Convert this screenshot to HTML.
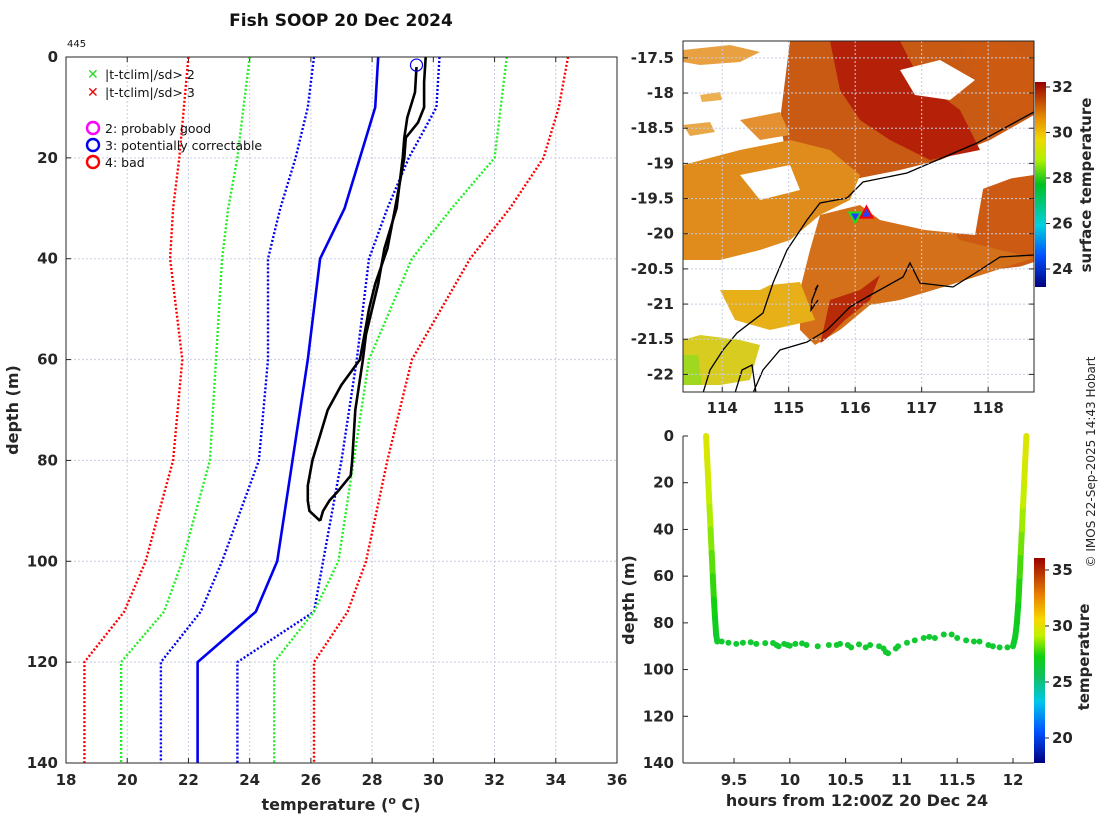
<!DOCTYPE html>
<html><head><meta charset="utf-8"><style>
body{margin:0;background:#fff;}
svg{font-family:"DejaVu Sans","Liberation Sans",sans-serif;}
.tk{font-size:15px;font-weight:bold;fill:#262626;}
</style></head><body>
<svg id="chart" width="1100" height="820" viewBox="0 0 1100 820" xmlns="http://www.w3.org/2000/svg">
<defs>
<linearGradient id="sstcb" x1="0" y1="1" x2="0" y2="0">
<stop offset="0" stop-color="#00007f"/><stop offset="0.15" stop-color="#0050ff"/><stop offset="0.3" stop-color="#00d0e0"/><stop offset="0.5" stop-color="#00c020"/><stop offset="0.62" stop-color="#b0f000"/><stop offset="0.72" stop-color="#f0d800"/><stop offset="0.82" stop-color="#e89000"/><stop offset="1" stop-color="#990000"/>
</linearGradient>
<linearGradient id="tcb" x1="0" y1="1" x2="0" y2="0">
<stop offset="0" stop-color="#00007f"/><stop offset="0.15" stop-color="#0050ff"/><stop offset="0.3" stop-color="#00c8e8"/><stop offset="0.42" stop-color="#10c060"/><stop offset="0.52" stop-color="#10d010"/><stop offset="0.62" stop-color="#c0f000"/><stop offset="0.7" stop-color="#f8d800"/><stop offset="0.82" stop-color="#e88000"/><stop offset="1" stop-color="#990000"/>
</linearGradient>
<clipPath id="mapclip"><rect x="683" y="41" width="351" height="351"/></clipPath>
</defs>
<g id="left"></g>
<g id="map"></g>
<g id="bottom"></g>
<text x="341" y="26" text-anchor="middle" font-size="17" font-weight="bold" fill="#111">Fish SOOP 20 Dec 2024</text>
<text x="67" y="47" font-size="10" fill="#111">445</text>
<text transform="translate(18,410) rotate(-90)" text-anchor="middle" font-size="16" font-weight="bold" fill="#262626">depth (m)</text>
<text x="341" y="810" text-anchor="middle" font-size="16" font-weight="bold" fill="#262626">temperature (<tspan dy="-6" font-size="11">o</tspan><tspan dy="6"> C)</tspan></text>
<text transform="translate(634,600) rotate(-90)" text-anchor="middle" font-size="16" font-weight="bold" fill="#262626">depth (m)</text>
<text x="857" y="806" text-anchor="middle" font-size="16" font-weight="bold" fill="#262626">hours from 12:00Z 20 Dec 24</text>
<text transform="translate(1091,185) rotate(-90)" text-anchor="middle" font-size="15" font-weight="bold" fill="#262626">surface temperature</text>
<text transform="translate(1089,657) rotate(-90)" text-anchor="middle" font-size="15" font-weight="bold" fill="#262626">temperature</text>
<text transform="translate(1095,462) rotate(-90)" text-anchor="middle" font-size="12" fill="#262626">© IMOS 22-Sep-2025 14:43 Hobart</text>
</svg>
<script>
// ---- left profile chart data ----
const depthTicks=[0,20,40,60,80,100,120,140];
const tempTicks=[18,20,22,24,26,28,30,32,34,36];
const climDepths=[0,10,20,30,40,60,80,100,110,120,140];
const redLow=[22.0,21.85,21.7,21.5,21.4,21.8,21.5,20.6,19.9,18.6,18.6];
const greenLow=[24.0,23.8,23.6,23.3,23.1,22.9,22.7,21.8,21.2,19.8,19.8];
const blueLow=[26.1,25.9,25.5,25.0,24.6,24.6,24.3,23.1,22.4,21.1,21.1];
const climMean=[28.2,28.1,27.6,27.1,26.3,25.9,25.4,24.9,24.2,22.3,22.3];
const blueHigh=[30.2,30.1,29.2,28.5,27.9,27.5,27.0,26.4,26.1,23.6,23.6];
const greenHigh=[32.4,32.2,32.0,30.6,29.3,27.9,27.4,26.9,26.1,24.8,24.8];
const redHigh=[34.4,34.1,33.6,32.5,31.2,29.3,28.5,27.8,27.2,26.1,26.1];
const downDepths=[2,7,12,16,20,30,38,45,50,55,60,70,80,83,86,88,90,92];
const downTemps=[29.45,29.4,29.15,29.05,29.0,28.8,28.4,28.2,28.0,27.8,27.7,27.45,27.35,27.3,26.9,26.6,26.4,26.3];
const upDepths=[92,90,88,85,80,75,70,65,60,55,50,45,38,30,20,16,13,10,5,0];
const upTemps=[26.3,25.95,25.9,25.9,26.05,26.3,26.55,27.0,27.6,27.75,27.9,28.1,28.5,28.75,29.05,29.1,29.5,29.7,29.7,29.75];
// ---- map data ----
const lonTicks=[114,115,116,117,118];
const latTicks=[-17.5,-18,-18.5,-19,-19.5,-20,-20.5,-21,-21.5,-22];
const sstTicks=[24,26,28,30,32];
const shipLon=[116.0];
const shipLat=[-19.77];
const flagLon=[116.17];
const flagLat=[-19.7];
// ---- bottom time/depth data ----
const hourTicks=[9.5,10,10.5,11,11.5,12];
const depthTicks2=[0,20,40,60,80,100,120,140];
const tempTicks2=[20,25,30,35];
// descent trace
const descentHours=[9.25,9.26,9.27,9.28,9.29,9.30,9.31,9.32,9.33,9.34,9.35];
const descentDepths=[0,10,20,30,40,50,60,70,78,85,88];
const descentTemps=[29.8,29.6,29.3,29.0,28.6,28.1,27.6,27.2,26.9,26.6,26.4];
// near-bottom points
const bottomHours=[9.39,9.45,9.52,9.58,9.65,9.70,9.78,9.85,9.88,9.90,9.95,9.98,10.0,10.05,10.11,10.15,10.25,10.35,10.42,10.45,10.52,10.55,10.62,10.68,10.72,10.80,10.84,10.86,10.88,10.95,10.97,11.05,11.12,11.2,11.25,11.3,11.38,11.45,11.5,11.58,11.65,11.7,11.78,11.82,11.88,11.95];
const bottomDepths=[88,88.5,89,88.5,88.3,89,88.7,88.6,89.5,90,89,89.5,89.8,89,88.8,89.5,90,89.5,89.5,89,89.5,90.5,89.2,90.5,89.5,90,91,92.5,93,91,90,88.5,87.5,86.5,86,86.5,85,85,86.5,87.5,88,88,89.5,90,90.5,90.5];
// ascent trace
const ascentHours=[12.0,12.02,12.035,12.05,12.06,12.07,12.08,12.09,12.10,12.11,12.12];
const ascentDepths=[90,86,80,70,60,50,40,30,20,10,0];
const ascentTemps=[26.4,26.5,26.7,27.0,27.4,27.9,28.4,28.9,29.3,29.6,29.8];
</script>
<script>
const NS="http://www.w3.org/2000/svg";
function mk(parent,tag,attrs){const e=document.createElementNS(NS,tag);for(const k in attrs)e.setAttribute(k,attrs[k]);parent.appendChild(e);return e;}
// ===== LEFT =====
const L=document.getElementById('left');
const lx0=66,lx1=617,ly0=57,ly1=763;
const xT=t=>lx0+(t-18)/(36-18)*(lx1-lx0);
const yD=d=>ly0+d/140*(ly1-ly0);
tempTicks.forEach(t=>{
  if(t>18&&t<36){const g=mk(L,'line',{x1:xT(t),x2:xT(t),y1:ly0,y2:ly1,stroke:'#c8cde0','stroke-width':1,'stroke-dasharray':'2,2'});
  }
  const tx=mk(L,'text',{x:xT(t),y:ly1+22,'text-anchor':'middle',class:'tk'});tx.textContent=t;
  
  mk(L,'line',{x1:xT(t),x2:xT(t),y1:ly1,y2:ly1-5,stroke:'#262626'});
  mk(L,'line',{x1:xT(t),x2:xT(t),y1:ly0,y2:ly0+5,stroke:'#262626'});
});
depthTicks.forEach(d=>{
  if(d>0&&d<140){const g=mk(L,'line',{x1:lx0,x2:lx1,y1:yD(d),y2:yD(d),stroke:'#c8cde0','stroke-width':1,'stroke-dasharray':'2,2'});
  }
  const tx=mk(L,'text',{x:lx0-8,y:yD(d)+5,'text-anchor':'end',class:'tk'});tx.textContent=d;
  
  mk(L,'line',{x1:lx0,x2:lx0+5,y1:yD(d),y2:yD(d),stroke:'#262626'});
});
function line(parent,ts,ds,stroke,w,dash,name,xf,yf){
  const p=ts.map((t,i)=>(i?'L':'M')+xf(t).toFixed(1)+','+yf(ds[i]).toFixed(1)).join('');
  const a={d:p,fill:'none',stroke:stroke,'stroke-width':w,'stroke-linejoin':'round'};
  if(dash)a['stroke-dasharray']=dash;
  const e=mk(parent,'path',a);
  
  
}
line(L,redLow,climDepths,'#ff0000',2.4,'2,2','clim-3sd-low',xT,yD);
line(L,greenLow,climDepths,'#22ee22',2.4,'2,2','clim-2sd-low',xT,yD);
line(L,blueLow,climDepths,'#0000ee',2.4,'2,2','clim-1sd-low',xT,yD);
line(L,climMean,climDepths,'#0000ee',2.6,null,'clim-mean',xT,yD);
line(L,blueHigh,climDepths,'#0000ee',2.4,'2,2','clim-1sd-high',xT,yD);
line(L,greenHigh,climDepths,'#22ee22',2.4,'2,2','clim-2sd-high',xT,yD);
line(L,redHigh,climDepths,'#ff0000',2.4,'2,2','clim-3sd-high',xT,yD);
line(L,downTemps,downDepths,'#000',2.6,null,'profile-down',xT,yD);
line(L,upTemps,upDepths,'#000',2.6,null,'profile-up',xT,yD);
const fl=mk(L,'circle',{cx:xT(downTemps[0]),cy:yD(downDepths[0])-2,r:6,fill:'none',stroke:'#0000ee','stroke-width':1.2});


const box=mk(L,'rect',{x:lx0,y:ly0,width:lx1-lx0,height:ly1-ly0,fill:'none',stroke:'#262626','stroke-width':1});


// legend
const lg=mk(L,'g',{});


[['#22dd22','|t-tclim|/sd> 2',74],['#ee0000','|t-tclim|/sd> 3',92]].forEach(([c,s,y])=>{
  const t=mk(lg,'text',{x:87,y:y+5,fill:c,'font-size':14,'font-weight':'bold'});t.textContent='✕';
  const tt=mk(lg,'text',{x:105,y:y+5,'font-size':12.5,fill:'#111'});tt.textContent=s;
  
});
[['#ff00ff','2: probably good',128],['#0000ee','3: potentially correctable',145],['#ff0000','4: bad',162]].forEach(([c,s,y])=>{
  mk(lg,'circle',{cx:93,cy:y,r:6,fill:'none',stroke:c,'stroke-width':2.4});
  const tt=mk(lg,'text',{x:105,y:y+5,'font-size':12.5,fill:'#111'});tt.textContent=s;
  
});
// ===== MAP =====
const M=document.getElementById('map');
const mx0=683,mx1=1034,my0=41,my1=392;
const xL=l=>mx0+(l-113.41)/(118.69-113.41)*(mx1-mx0);
const yLat=a=>my0+(-17.26-a)/(22.25-17.26)*(my1-my0);
const mg=mk(M,'g',{'clip-path':'url(#mapclip)'});


function poly(pts,fill){mk(mg,'polygon',{points:pts,fill:fill});}
poly('790,41 1034,41 1034,115 990,140 940,160 900,170 860,178 820,190 790,180 780,120','#c85a14');
poly('683,165 740,150 790,140 830,150 860,175 850,200 820,215 790,240 760,250 720,260 683,260','#e08c1c');
// sparse speckles upper-left
poly('683,50 730,45 760,52 740,62 700,65 683,62','#e8a040');
poly('740,120 780,112 790,135 760,140','#e49030');
poly('683,125 710,122 715,132 690,136','#e8a848');
poly('700,95 720,92 722,100 702,102','#ecb050');
poly('830,41 900,41 920,80 960,110 980,150 930,160 890,140 860,120 840,90','#b42008');
poly('960,41 1000,41 1034,60 1034,110 1000,120 980,90','#cc5a10');
poly('940,220 980,190 1034,170 1034,265 990,270 960,250','#cc5a12');
poly('820,215 860,205 890,190 940,215 960,240 1000,250 1034,258 950,285 900,300 870,305 840,330 815,345 800,330 800,290 810,250','#d4701a');
poly('830,300 860,290 880,275 870,300 845,320 820,345','#b82a08');
poly('720,290 800,282 815,320 770,330 735,320','#e8b018');
poly('683,340 700,335 740,340 760,345 750,380 720,385 683,385','#d8cc20');
poly('683,355 698,355 702,385 683,385','#a0d820');
[['868,178 930,168 985,178 975,235 925,230 880,220 860,205'],
 ['740,175 790,165 800,190 760,200'],
 ['683,265 760,260 790,275 760,290 720,290 683,300'],
 ['900,70 940,60 975,80 950,100 915,95'],
 ['990,160 1034,140 1034,175 1000,180'],
 ['840,330 870,310 900,300 950,290 1034,262 1034,392 760,392 780,370']].forEach(p=>poly(p[0],'#ffffff'));
lonTicks.forEach(l=>{mk(M,'line',{x1:xL(l),x2:xL(l),y1:my0,y2:my1,stroke:'#c8cde0','stroke-dasharray':'2,2'});
  const t=mk(M,'text',{x:xL(l),y:my1+21,'text-anchor':'middle',class:'tk'});t.textContent=l;
  
  mk(M,'line',{x1:xL(l),x2:xL(l),y1:my1,y2:my1-5,stroke:'#262626'});});
latTicks.forEach(a=>{mk(M,'line',{x1:mx0,x2:mx1,y1:yLat(a),y2:yLat(a),stroke:'#c8cde0','stroke-dasharray':'2,2'});
  const t=mk(M,'text',{x:mx0-9,y:yLat(a)+5,'text-anchor':'end',class:'tk'});t.textContent=a;
  
  mk(M,'line',{x1:mx0,x2:mx0+5,y1:yLat(a),y2:yLat(a),stroke:'#262626'});
  mk(M,'line',{x1:mx1,x2:mx1-5,y1:yLat(a),y2:yLat(a),stroke:'#262626'});});
const c1=mk(mg,'path',{d:'M1034,112 L977,143 L907,173 L863,182 L847,198 L820,203 L807,220 L787,250 L773,283 L763,313 L737,333 L723,350 L710,370 L703,393',fill:'none',stroke:'#000','stroke-width':1.3});

const c2=mk(mg,'path',{d:'M1034,255 L1000,257 L980,270 L953,287 L920,283 L910,263 L903,277 L867,297 L850,307 L827,330 L807,342 L780,350 L763,370 L753,393',fill:'none',stroke:'#000','stroke-width':1.3});

mk(mg,'path',{d:'M735,393 L742,370 L752,365 L756,393',fill:'none',stroke:'#000','stroke-width':1.3});
mk(mg,'path',{d:'M815,290 L818,285 L812,300 L811,310 L818,300',fill:'none',stroke:'#000','stroke-width':1.3});
shipLon.forEach((l,i)=>{const x=xL(l),y=yLat(shipLat[i]);
  const m=mk(M,'polygon',{points:`${x-6},${y-5} ${x+6},${y-5} ${x},${y+5}`,fill:'#2040ff',stroke:'#22dd22','stroke-width':2});
  });
flagLon.forEach((l,i)=>{const x=xL(l),y=yLat(flagLat[i]);
  const m=mk(M,'polygon',{points:`${x-6},${y+5} ${x+6},${y+5} ${x},${y-6}`,fill:'#2040ff',stroke:'#ff0000','stroke-width':2});
  });
const mb=mk(M,'rect',{x:mx0,y:my0,width:mx1-mx0,height:my1-my0,fill:'none',stroke:'#262626'});

const cb1y0=82,cb1y1=287;const ySst=v=>87+(32-v)*(269-87)/8;
const cb=mk(M,'rect',{x:1035,y:cb1y0,width:11,height:cb1y1-cb1y0,fill:'url(#sstcb)'});

sstTicks.forEach(v=>{mk(M,'line',{x1:1046,x2:1050,y1:ySst(v),y2:ySst(v),stroke:'#262626'});
  const t=mk(M,'text',{x:1052,y:ySst(v)+5,class:'tk'});t.textContent=v;
  });
// ===== BOTTOM =====
const B=document.getElementById('bottom');
const bx0=683,bx1=1034,by0=436,by1=763;
const xH=h=>734+(h-9.5)*(1013-734)/2.5;
const yB=d=>by0+d/140*(by1-by0);
function jet(v){const s=[[18,[0,0,127]],[21,[0,80,255]],[23.5,[0,200,232]],[25.5,[16,192,96]],[27,[16,208,16]],[29,[192,240,0]],[30.5,[248,216,0]],[32.5,[232,128,0]],[36,[153,0,0]]];
  for(let i=0;i<s.length-1;i++){if(v<=s[i+1][0]){const f=Math.max(0,(v-s[i][0])/(s[i+1][0]-s[i][0]));const c=s[i][1].map((a,k)=>Math.round(a+f*(s[i+1][1][k]-a)));return`rgb(${c})`;}}return'rgb(153,0,0)';}
hourTicks.forEach(h=>{mk(B,'line',{x1:xH(h),x2:xH(h),y1:by1,y2:by1-5,stroke:'#262626'});
  const t=mk(B,'text',{x:xH(h),y:by1+22,'text-anchor':'middle',class:'tk'});t.textContent=h;
  });
depthTicks2.forEach(d=>{mk(B,'line',{x1:bx0,x2:bx0+5,y1:yB(d),y2:yB(d),stroke:'#262626'});
  const t=mk(B,'text',{x:bx0-9,y:yB(d)+5,'text-anchor':'end',class:'tk'});t.textContent=d;
  });
mk(B,'line',{x1:bx0,x2:bx0,y1:by0,y2:by1,stroke:'#262626'});
mk(B,'line',{x1:bx0,x2:bx1,y1:by1,y2:by1,stroke:'#262626'});
function trace(hs,ds,ts,name){
  for(let i=0;i<hs.length-1;i++){
    const s=mk(B,'line',{x1:xH(hs[i]),y1:yB(ds[i]),x2:xH(hs[i+1]),y2:yB(ds[i+1]),stroke:jet((ts[i]+ts[i+1])/2),'stroke-width':6,'stroke-linecap':'round'});
    
    
  }
}
trace(descentHours,descentDepths,descentTemps,'descent-segment');
trace(ascentHours,ascentDepths,ascentTemps,'ascent-segment');
bottomHours.forEach((h,i)=>{const c=mk(B,'circle',{cx:xH(h),cy:yB(bottomDepths[i]),r:3,fill:jet(26.4)});
  
  });
const yT2=v=>570+(35-v)*(738-570)/15;
const cb2=mk(B,'rect',{x:1034,y:558,width:11,height:205,fill:'url(#tcb)'});

tempTicks2.forEach(v=>{mk(B,'line',{x1:1045,x2:1049,y1:yT2(v),y2:yT2(v),stroke:'#262626'});
  const t=mk(B,'text',{x:1052,y:yT2(v)+5,class:'tk'});t.textContent=v;
  });
</script>
</body></html>
